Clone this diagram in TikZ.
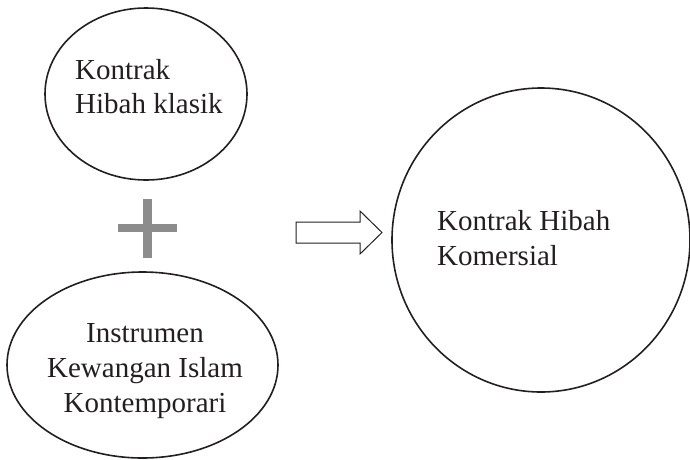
\documentclass[tikz,border=0pt]{standalone}
\usepackage{fontspec}
\setmainfont{Liberation Serif}
\usetikzlibrary{shapes.geometric}
\definecolor{inkc}{HTML}{231F20}
\definecolor{plusc}{HTML}{8C8C8C}
\tikzset{
  oval/.style={ellipse, draw=inkc, line width=1.6pt, inner sep=0pt},
  lbl/.style={font=\fontsize{29}{35}\selectfont, text=inkc, inner sep=0pt},
  plusbar/.style={draw=plusc, line width=8.5pt},
  blockarrow/.style={draw=inkc, line width=1pt, fill=white, line join=miter}
}
\begin{document}
\begin{tikzpicture}[x=1pt,y=-1pt]
\useasboundingbox (0,0) rectangle (690,459);
% top ellipse
\node[oval, minimum width=202pt, minimum height=172pt] (top) at (146,94) {};
\node[lbl, anchor=base west] (t1) at (75,79) {Kontrak};
\node[lbl, anchor=base west] (t2) at (75,113) {Hibah klasik};
% plus sign
\coordinate (plus) at (147.5,228);
\draw[plusbar] (118,228) -- (177,228);
\draw[plusbar] (147.5,199) -- (147.5,258);
% bottom ellipse
\node[oval, minimum width=271pt, minimum height=186pt] (bot) at (142.5,365) {};
\node[lbl, anchor=base] (b1) at (145,342) {Instrumen};
\node[lbl, anchor=base] (b2) at (145,377) {Kewangan Islam};
\node[lbl, anchor=base] (b3) at (145,412) {Kontemporari};
% block arrow
\draw[blockarrow] (296,222) -- (360,222) -- (360,211) -- (382,232.5) -- (360,254) -- (360,243) -- (296,243) -- cycle;
% big circle
\node[oval, minimum width=298pt, minimum height=304pt] (res) at (541,240) {};
\node[lbl, anchor=base west] (r1) at (437,230) {Kontrak Hibah};
\node[lbl, anchor=base west] (r2) at (437,265) {Komersial};
\end{tikzpicture}
\end{document}
